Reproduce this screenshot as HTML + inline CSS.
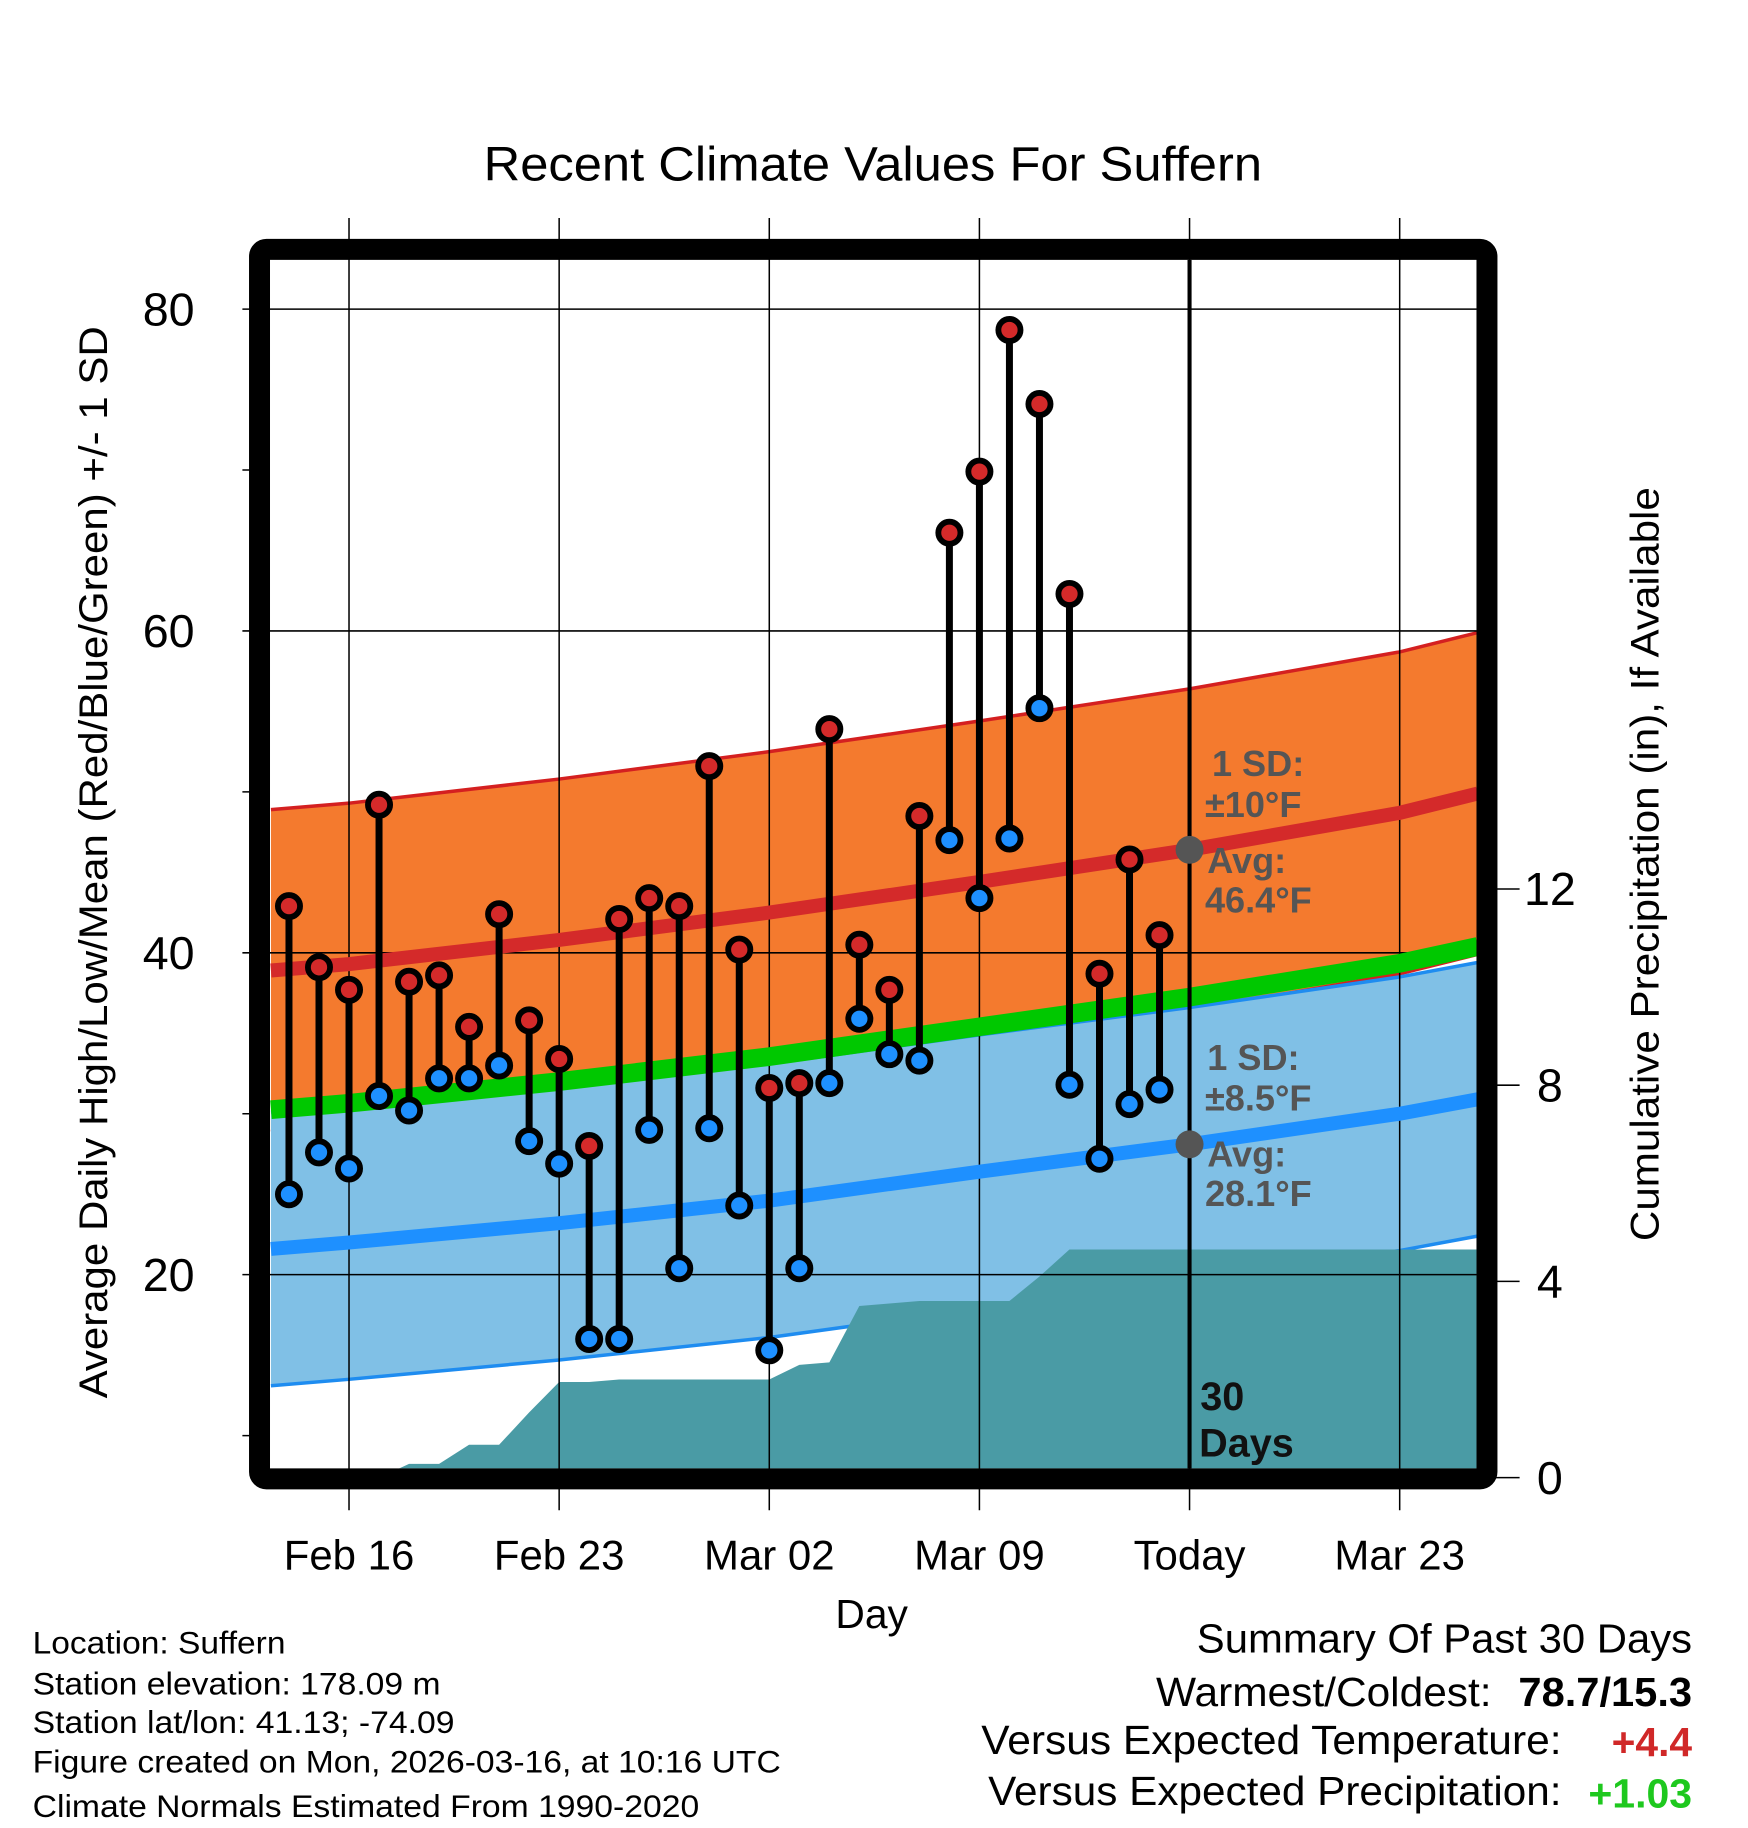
<!DOCTYPE html>
<html><head><meta charset="utf-8">
<style>
html,body{margin:0;padding:0;background:#fff;}
svg{display:block;font-family:"Liberation Sans",sans-serif;}
</style></head>
<body>
<svg id="chart" width="1748" height="1828" viewBox="0 0 1500 1568.6" xmlns="http://www.w3.org/2000/svg">
<g id="bands"></g>
<g id="precip"></g>
<g id="grid"></g>
<g id="lines"></g>
<g id="marks"></g>
<g id="axes"></g>
<text x="415" y="155" font-size="41" textLength="668" lengthAdjust="spacingAndGlyphs">Recent Climate Values For Suffern</text>
<text transform="translate(92,1200) rotate(-90)" font-size="34" textLength="920" lengthAdjust="spacingAndGlyphs">Average Daily High/Low/Mean (Red/Blue/Green) +/- 1 SD</text>
<text transform="translate(1423,1065) rotate(-90)" font-size="34" textLength="647" lengthAdjust="spacingAndGlyphs">Cumulative Precipitation (in), If Available</text>
<text x="748" y="1397" font-size="35" text-anchor="middle">Day</text>
<g font-size="31" font-weight="bold" fill="#555">
<text x="1040" y="666">1 SD:</text><text x="1034" y="701">±10°F</text>
<text x="1036" y="749">Avg:</text><text x="1034" y="783">46.4°F</text>
</g>
<g font-size="31" font-weight="bold" fill="#555">
<text x="1036" y="918">1 SD:</text><text x="1034" y="953">±8.5°F</text>
<text x="1036" y="1001">Avg:</text><text x="1034" y="1035">28.1°F</text>
</g>
<g font-size="34" font-weight="bold" fill="#111">
<text x="1030" y="1210">30</text><text x="1029" y="1250">Days</text>
</g>
<g font-size="27" lengthAdjust="spacingAndGlyphs">
<text x="28" y="1419" textLength="217" lengthAdjust="spacingAndGlyphs">Location: Suffern</text>
<text x="28" y="1454" textLength="350" lengthAdjust="spacingAndGlyphs">Station elevation: 178.09 m</text>
<text x="28" y="1487" textLength="362" lengthAdjust="spacingAndGlyphs">Station lat/lon: 41.13; -74.09</text>
<text x="28" y="1521" textLength="642" lengthAdjust="spacingAndGlyphs">Figure created on Mon, 2026-03-16, at 10:16 UTC</text>
<text x="28" y="1559" textLength="572" lengthAdjust="spacingAndGlyphs">Climate Normals Estimated From 1990-2020</text>
</g>
<g font-size="35">
<text x="1027" y="1418" textLength="425" lengthAdjust="spacingAndGlyphs">Summary Of Past 30 Days</text>
<text x="992" y="1464" textLength="288" lengthAdjust="spacingAndGlyphs">Warmest/Coldest:</text>
<text x="1303" y="1464" font-weight="bold" textLength="149" lengthAdjust="spacingAndGlyphs">78.7/15.3</text>
<text x="842" y="1505" textLength="498" lengthAdjust="spacingAndGlyphs">Versus Expected Temperature:</text>
<text x="1383" y="1507" font-weight="bold" fill="#d02828" textLength="69" lengthAdjust="spacingAndGlyphs">+4.4</text>
<text x="848" y="1549" textLength="492" lengthAdjust="spacingAndGlyphs">Versus Expected Precipitation:</text>
<text x="1363" y="1551" font-weight="bold" fill="#1ec81e" textLength="89" lengthAdjust="spacingAndGlyphs">+1.03</text>
</g>
</svg>
<script>
// ---- data ----
const dayOffsets = [0,1,2,3,4,5,6,7,8,9,10,11,12,13,14,15,16,17,18,19,20,21,22,23,24,25,26,27,28,29]; // days since Feb 14
const highs = [42.9,39.1,37.7,49.2,38.2,38.6,35.4,42.4,35.8,33.4,28.0,42.1,43.4,42.9,51.6,40.2,31.6,31.9,53.9,40.5,37.7,48.5,66.1,69.9,78.7,74.1,62.3,38.7,45.8,41.1];
const lows  = [25.0,27.6,26.6,31.1,30.2,32.2,32.2,33.0,28.3,26.9,16.0,16.0,29.0,20.4,29.1,24.3,15.3,20.4,31.9,35.9,33.7,33.3,47.0,43.4,47.1,55.2,31.8,27.2,30.6,31.5];
const precipCum = [0,0,0,0,0.28,0.28,0.67,0.67,1.33,1.95,1.95,2.0,2.0,2.0,2.0,2.0,2.0,2.3,2.35,3.5,3.55,3.6,3.6,3.6,3.6,4.1,4.65,4.65,4.65,4.65];
const normDays = [-0.6,2,9,16,23,30,37,39.6];
const normHigh = [38.9,39.3,40.8,42.5,44.4,46.4,48.7,49.9];
const normLow  = [21.6,22.0,23.2,24.6,26.4,28.1,30.0,30.9];
const sdHigh = 10, sdLow = 8.5;
const xTickDays = [2,9,16,23,30,37];
const xTickLabels = ["Feb 16","Feb 23","Mar 02","Mar 09","Today","Mar 23"];
const yTicks = [80,60,40,20];
const yMinor = [70,50,30,10];
const y2Ticks = [0,4,8,12];

// ---- scales ----
const X0 = 231.7, X1 = 1267, Y0 = 223, Y1 = 1260;
const x = d => 299.5 + (d - 2) * 25.76;
const y = t => 265.2 + (80 - t) * 13.81;
const y2 = p => 1268 - p * 42.1;
const NS = "http://www.w3.org/2000/svg";
function mk(tag, attrs, parent){const e=document.createElementNS(NS,tag);for(const k in attrs)e.setAttribute(k,attrs[k]);parent.appendChild(e);return e;}
const $ = id => document.getElementById(id);

function pts(arr, off){return normDays.map((d,i)=>x(d).toFixed(1)+","+y(arr[i]+off).toFixed(1));}
function band(arr, sd, fill, edge, name){
  const up = pts(arr, sd), dn = pts(arr, -sd).reverse();
  const p = mk("polygon",{points:up.concat(dn).join(" "),fill:fill},$("bands"));
  
  
  const l1 = mk("polyline",{points:pts(arr,sd).join(" "),fill:"none",stroke:edge,"stroke-width":3},$("bands"));
  
  
  const l2 = mk("polyline",{points:pts(arr,-sd).join(" "),fill:"none",stroke:edge,"stroke-width":3},$("bands"));
  
  
}
band(normHigh, sdHigh, "#f47a2e", "#d42020", "high-sd-band");
band(normLow, sdLow, "#80c0e6", "#1e8cf0", "low-sd-band");

{
  let d = "M"+X0+","+y2(0);
  d += " L"+x(dayOffsets[0]-0.6)+","+y2(precipCum[0]);
  dayOffsets.forEach((dd,i)=>{ d += " L"+x(dd).toFixed(1)+","+y2(precipCum[i]).toFixed(1); });
  d += " L"+X1+","+y2(precipCum[precipCum.length-1]).toFixed(1)+" L"+X1+","+y2(0)+" Z";
  const p = mk("path",{d:d,fill:"#4a9ba5"},$("precip"));
  
  
}

xTickDays.forEach((d,i)=>{
  const l = mk("line",{x1:x(d),x2:x(d),y1:187,y2:1296,stroke:"#000","stroke-width":1.3},$("grid"));
  
  
  const t = mk("text",{x:x(d),y:1347,"font-size":36,"text-anchor":"middle"},$("axes"));
  t.textContent = xTickLabels[i];
  
  
});
yTicks.forEach(v=>{
  const l = mk("line",{x1:208,x2:X1,y1:y(v),y2:y(v),stroke:"#000","stroke-width":1.3},$("grid"));
  
  
  const t = mk("text",{x:167,y:y(v)+14,"font-size":40,"text-anchor":"end"},$("axes"));
  t.textContent = v;
  
  
});
yMinor.forEach(v=>{
  const l = mk("line",{x1:208,x2:222,y1:y(v),y2:y(v),stroke:"#000","stroke-width":1.3},$("axes"));
  
  
});
y2Ticks.forEach(v=>{
  const l = mk("line",{x1:1276,x2:1304,y1:y2(v),y2:y2(v),stroke:"#000","stroke-width":1.3},$("axes"));
  
  
  const t = mk("text",{x:1330,y:y2(v)+14,"font-size":40,"text-anchor":"middle"},$("axes"));
  t.textContent = v;
  
  
});

function nline(arr, color, w, name){
  const l = mk("polyline",{points:normDays.map((d,i)=>x(d).toFixed(1)+","+y(arr[i]).toFixed(1)).join(" "),fill:"none",stroke:color,"stroke-width":w},$("lines"));
  
  
}
nline(normHigh.map((h,i)=>(h+normLow[i])/2), "#00c800", 16, "normal-mean-line");
nline(normHigh, "#d42a2a", 12, "normal-high-line");
nline(normLow, "#1e90ff", 12, "normal-low-line");

{
  const defs = mk("defs",{},$("chart"));
  const cp = mk("clipPath",{id:"plotclip"},defs);
  mk("rect",{x:X0,y:Y0,width:X1-X0,height:Y1-Y0},cp);
  ["bands","precip","lines"].forEach(id=>$(id).setAttribute("clip-path","url(#plotclip)"));
}

{
  const tl = mk("line",{x1:x(30),x2:x(30),y1:Y0,y2:Y1,stroke:"#000","stroke-width":3.5},$("marks"));
  
  
  const d1 = mk("circle",{cx:x(30),cy:y(46.4),r:12,fill:"#555"},$("marks"));
  
  
  const d2 = mk("circle",{cx:x(30),cy:y(28.1),r:12,fill:"#555"},$("marks"));
  
  
}

dayOffsets.forEach((d,i)=>{
  const s = mk("line",{x1:x(d),x2:x(d),y1:y(highs[i]),y2:y(lows[i]),stroke:"#000","stroke-width":6},$("marks"));
  
  
});
dayOffsets.forEach((d,i)=>{
  const h = mk("circle",{cx:x(d),cy:y(highs[i]),r:9.5,fill:"#d42a2a",stroke:"#000","stroke-width":5},$("marks"));
  
  
  const l = mk("circle",{cx:x(d),cy:y(lows[i]),r:9.5,fill:"#1e90ff",stroke:"#000","stroke-width":5},$("marks"));
  
  
});

{
  const f = mk("rect",{x:X0-9,y:Y0-9,width:X1-X0+18,height:Y1-Y0+18,rx:6,fill:"none",stroke:"#000","stroke-width":18},$("axes"));
  
  
}
</script>
</body></html>
